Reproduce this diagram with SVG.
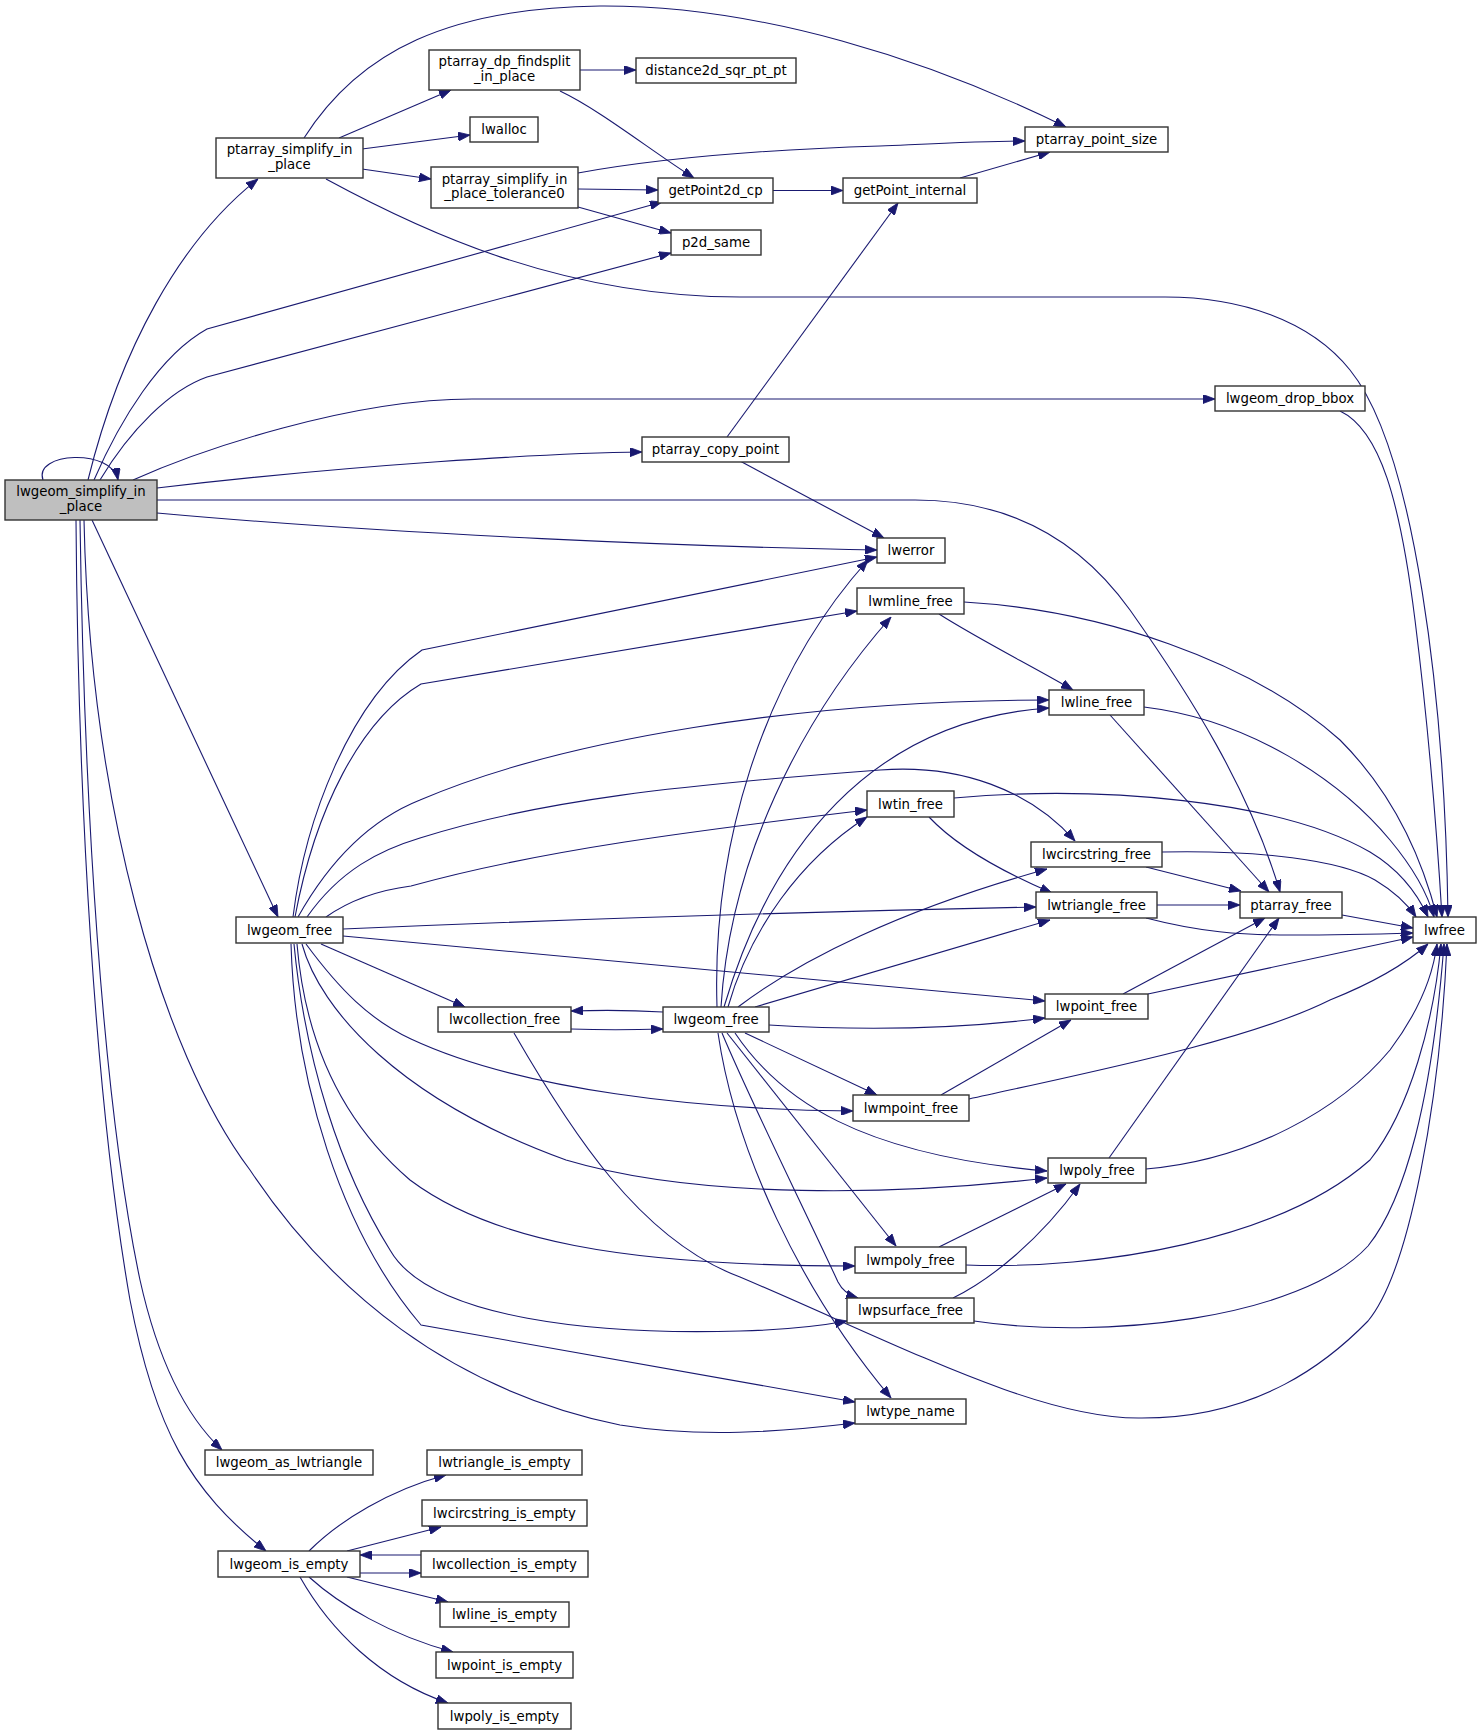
<svg xmlns="http://www.w3.org/2000/svg" width="1481" height="1735" viewBox="0 0 1481 1735">
<style>
.n rect{fill:#ffffff;stroke:#333333;stroke-width:1.4}
.n.root rect{fill:#bfbfbf}
.n text{font-family:"DejaVu Sans","Liberation Sans",sans-serif;font-size:13.3px;text-anchor:middle;fill:#000000}
.e path{fill:none;stroke:#191970;stroke-width:1.1;marker-end:url(#a)}
</style>
<defs>
<marker id="a" viewBox="0 0 12 9" markerWidth="12" markerHeight="9" refX="12" refY="4.5" orient="auto" markerUnits="userSpaceOnUse">
<path d="M0,0 L12,4.5 L0,9 z" fill="#191970" stroke="#191970" stroke-width="0.8"/>
</marker>
</defs>
<rect x="0" y="0" width="1481" height="1735" fill="#ffffff"/>
<g id="edges" class="e">
<path d="M43,480 C33,452 112,448 118,480"/>
<path d="M88,480 C120,350 180,240 258,179"/>
<path d="M94,480 C120,420 160,355 207,329 L662,202"/>
<path d="M100,480 C130,430 170,390 207,377 L671,253"/>
<path d="M133,480 C200,450 350,399 472,399 L1215,399"/>
<path d="M157,488 C350,465 550,453 642,452"/>
<path d="M157,500 L915,500 C1010,500 1080,540 1130,610 C1190,695 1250,790 1280,892"/>
<path d="M157,513 C400,535 700,547 877,550"/>
<path d="M92,520 L278,917"/>
<path d="M84,520 C90,800 160,1050 250,1170 C330,1290 450,1390 620,1425 C700,1438 780,1432 855,1423"/>
<path d="M80,520 C84,800 102,1100 140,1280 C160,1370 190,1420 222,1450"/>
<path d="M76,520 C78,800 95,1100 130,1300 C155,1430 190,1490 266,1551"/>
<path d="M339,138 L451,90"/>
<path d="M362,149 L470,135"/>
<path d="M362,169 L431,179"/>
<path d="M304,138 C360,50 450,8 600,6 C760,5 930,60 1066,127"/>
<path d="M326,179 C420,230 560,297 740,297 L1165,297 C1240,297 1310,320 1350,370 C1415,450 1445,700 1448,917"/>
<path d="M1340,411 C1380,430 1400,500 1415,620 C1430,740 1438,850 1442,917"/>
<path d="M580,70 L636,70"/>
<path d="M560,91 C600,110 650,150 694,178"/>
<path d="M578,173 C650,160 750,150 880,146 C950,143 990,141 1025,141"/>
<path d="M578,189 L658,190"/>
<path d="M578,207 L671,233"/>
<path d="M773,190.5 L843,190.5"/>
<path d="M960,178 L1050,152"/>
<path d="M727,437 L898,203"/>
<path d="M740,461 L884,538"/>
<path d="M293,917 C305,820 350,700 422,650 L877,557"/>
<path d="M295,917 C315,810 360,720 421,684 L857,611"/>
<path d="M298,917 C330,860 370,820 420,800 C560,740 800,700 1049,700"/>
<path d="M307,917 C340,870 380,850 420,838 C540,800 680,785 880,770 C960,764 1030,790 1075,841"/>
<path d="M326,917 C350,900 380,890 411,886 C540,850 700,830 867,810"/>
<path d="M343,929 C550,920 800,912 1036,907"/>
<path d="M343,936 L1045,1001"/>
<path d="M321,944 L465,1007"/>
<path d="M306,944 C340,990 370,1020 411,1039 C520,1090 700,1110 853,1111"/>
<path d="M302,944 C320,1010 400,1100 566,1160 C700,1200 900,1195 1047,1178"/>
<path d="M297,944 C305,1040 340,1120 410,1180 C490,1240 620,1266 855,1266"/>
<path d="M294,944 C305,1060 340,1170 390,1250 C430,1320 600,1335 740,1331 C780,1330 820,1326 847,1321"/>
<path d="M291,944 C295,1080 340,1230 421,1325 L855,1402"/>
<path d="M663,1012 C630,1010 600,1010 571,1011"/>
<path d="M571,1029 C600,1030 630,1030 663,1029"/>
<path d="M717,1007 C712,850 760,680 868,560"/>
<path d="M721,1007 C730,860 800,720 891,617"/>
<path d="M724,1007 C770,850 870,720 1049,708"/>
<path d="M728,1007 C750,930 800,860 867,817"/>
<path d="M738,1007 C800,960 900,910 1047,869"/>
<path d="M755,1007 L1050,920"/>
<path d="M769,1025 C850,1030 950,1030 1045,1018"/>
<path d="M745,1033 L877,1095"/>
<path d="M735,1033 C780,1100 860,1155 1047,1171"/>
<path d="M727,1033 L896,1246"/>
<path d="M722,1033 C750,1100 800,1200 838,1282 C842,1290 848,1295 858,1298"/>
<path d="M718,1033 C735,1150 800,1290 891,1398"/>
<path d="M939,614 C980,640 1030,665 1073,690"/>
<path d="M964,602 C1100,610 1250,660 1340,740 C1400,800 1425,870 1437,917"/>
<path d="M1110,715 L1269,892"/>
<path d="M1144,707 C1250,720 1340,780 1390,840 C1415,870 1428,895 1434,917"/>
<path d="M929,817 C960,850 1010,875 1052,893"/>
<path d="M954,798 C1100,785 1280,800 1370,852 C1400,870 1418,895 1428,917"/>
<path d="M1146,867 L1241,891"/>
<path d="M1162,852 C1260,850 1340,860 1375,880 C1395,892 1408,905 1416,917"/>
<path d="M1157,905 L1240,905"/>
<path d="M1146,918 C1200,932 1240,935 1290,935 C1340,935 1380,934 1413,933"/>
<path d="M1342,915 L1413,928"/>
<path d="M1123,994 L1265,918"/>
<path d="M1148,994 L1413,937"/>
<path d="M941,1095 L1071,1020"/>
<path d="M969,1099 C1100,1070 1250,1040 1330,1000 C1380,980 1410,960 1428,944"/>
<path d="M1109,1158 L1279,918"/>
<path d="M1146,1169 C1250,1160 1340,1110 1390,1050 C1420,1010 1433,975 1437,944"/>
<path d="M939,1247 L1066,1184"/>
<path d="M966,1265 C1100,1270 1280,1240 1370,1160 C1410,1110 1434,1020 1441,944"/>
<path d="M953,1298 C990,1280 1040,1240 1080,1184"/>
<path d="M974,1321 C1100,1340 1300,1320 1368,1246 C1405,1200 1432,1100 1444,944"/>
<path d="M514,1033 C570,1130 640,1240 740,1277 C900,1345 1040,1420 1142,1418 C1260,1418 1330,1360 1368,1321 C1410,1270 1440,1100 1447,944"/>
<path d="M309,1551 C340,1520 390,1490 446,1475"/>
<path d="M347,1551 L441,1527"/>
<path d="M421,1555 L360,1555"/>
<path d="M360,1573 L421,1573"/>
<path d="M347,1577 L448,1602"/>
<path d="M309,1577 C340,1605 390,1635 453,1652"/>
<path d="M300,1577 C330,1630 380,1680 448,1703"/>
</g>
<g id="lwgeom_simplify_in_place" class="n root"><rect x="5" y="480" width="152" height="40"/><text x="81" y="496.2">lwgeom_simplify_in</text><text x="81" y="510.5">_place</text></g>
<g id="ptarray_simplify_in_place" class="n"><rect x="216" y="138" width="147" height="40"/><text x="289.5" y="154.2">ptarray_simplify_in</text><text x="289.5" y="168.5">_place</text></g>
<g id="ptarray_dp_findsplit_in_place" class="n"><rect x="429" y="50" width="151" height="40"/><text x="504.5" y="66.2">ptarray_dp_findsplit</text><text x="504.5" y="80.5">_in_place</text></g>
<g id="distance2d_sqr_pt_pt" class="n"><rect x="636" y="58" width="160" height="25"/><text x="716" y="75">distance2d_sqr_pt_pt</text></g>
<g id="lwalloc" class="n"><rect x="470" y="117" width="68" height="25"/><text x="504" y="134">lwalloc</text></g>
<g id="ptarray_simplify_in_place_tolerance0" class="n"><rect x="431" y="167" width="147" height="41"/><text x="504.5" y="183.7">ptarray_simplify_in</text><text x="504.5" y="198">_place_tolerance0</text></g>
<g id="ptarray_point_size" class="n"><rect x="1025" y="127" width="143" height="25"/><text x="1096.5" y="144">ptarray_point_size</text></g>
<g id="getPoint2d_cp" class="n"><rect x="658" y="178" width="115" height="25"/><text x="715.5" y="195">getPoint2d_cp</text></g>
<g id="getPoint_internal" class="n"><rect x="843" y="178" width="134" height="25"/><text x="910" y="195">getPoint_internal</text></g>
<g id="p2d_same" class="n"><rect x="671" y="230" width="90" height="25"/><text x="716" y="247">p2d_same</text></g>
<g id="lwgeom_drop_bbox" class="n"><rect x="1215" y="386" width="150" height="25"/><text x="1290" y="403">lwgeom_drop_bbox</text></g>
<g id="ptarray_copy_point" class="n"><rect x="642" y="437" width="147" height="25"/><text x="715.5" y="454">ptarray_copy_point</text></g>
<g id="lwerror" class="n"><rect x="877" y="538" width="68" height="25"/><text x="911" y="555">lwerror</text></g>
<g id="lwgeom_free_1" class="n"><rect x="236" y="917" width="107" height="26"/><text x="289.5" y="934.5">lwgeom_free</text></g>
<g id="lwmline_free" class="n"><rect x="857" y="588" width="107" height="26"/><text x="910.5" y="605.5">lwmline_free</text></g>
<g id="lwline_free" class="n"><rect x="1049" y="690" width="95" height="25"/><text x="1096.5" y="707">lwline_free</text></g>
<g id="lwtin_free" class="n"><rect x="867" y="791" width="87" height="26"/><text x="910.5" y="808.5">lwtin_free</text></g>
<g id="lwcircstring_free" class="n"><rect x="1031" y="842" width="131" height="25"/><text x="1096.5" y="859">lwcircstring_free</text></g>
<g id="lwtriangle_free" class="n"><rect x="1036" y="892" width="121" height="26"/><text x="1096.5" y="909.5">lwtriangle_free</text></g>
<g id="ptarray_free" class="n"><rect x="1240" y="892" width="102" height="26"/><text x="1291" y="909.5">ptarray_free</text></g>
<g id="lwfree" class="n"><rect x="1413" y="917" width="63" height="26"/><text x="1444.5" y="934.5">lwfree</text></g>
<g id="lwcollection_free" class="n"><rect x="438" y="1007" width="133" height="25"/><text x="504.5" y="1024">lwcollection_free</text></g>
<g id="lwgeom_free_2" class="n"><rect x="663" y="1007" width="106" height="25"/><text x="716" y="1024">lwgeom_free</text></g>
<g id="lwpoint_free" class="n"><rect x="1045" y="994" width="103" height="25"/><text x="1096.5" y="1011">lwpoint_free</text></g>
<g id="lwmpoint_free" class="n"><rect x="853" y="1095" width="116" height="26"/><text x="911" y="1112.5">lwmpoint_free</text></g>
<g id="lwpoly_free" class="n"><rect x="1048" y="1158" width="98" height="25"/><text x="1097" y="1175">lwpoly_free</text></g>
<g id="lwmpoly_free" class="n"><rect x="855" y="1247" width="111" height="26"/><text x="910.5" y="1264.5">lwmpoly_free</text></g>
<g id="lwpsurface_free" class="n"><rect x="847" y="1298" width="127" height="25"/><text x="910.5" y="1315">lwpsurface_free</text></g>
<g id="lwtype_name" class="n"><rect x="855" y="1399" width="111" height="25"/><text x="910.5" y="1416">lwtype_name</text></g>
<g id="lwgeom_as_lwtriangle" class="n"><rect x="205" y="1450" width="168" height="25"/><text x="289" y="1467">lwgeom_as_lwtriangle</text></g>
<g id="lwtriangle_is_empty" class="n"><rect x="427" y="1450" width="155" height="25"/><text x="504.5" y="1467">lwtriangle_is_empty</text></g>
<g id="lwcircstring_is_empty" class="n"><rect x="422" y="1500" width="165" height="26"/><text x="504.5" y="1517.5">lwcircstring_is_empty</text></g>
<g id="lwcollection_is_empty" class="n"><rect x="421" y="1551" width="167" height="26"/><text x="504.5" y="1568.5">lwcollection_is_empty</text></g>
<g id="lwgeom_is_empty" class="n"><rect x="218" y="1551" width="142" height="26"/><text x="289" y="1568.5">lwgeom_is_empty</text></g>
<g id="lwline_is_empty" class="n"><rect x="440" y="1602" width="129" height="25"/><text x="504.5" y="1619">lwline_is_empty</text></g>
<g id="lwpoint_is_empty" class="n"><rect x="436" y="1652" width="137" height="26"/><text x="504.5" y="1669.5">lwpoint_is_empty</text></g>
<g id="lwpoly_is_empty" class="n"><rect x="438" y="1703" width="133" height="26"/><text x="504.5" y="1720.5">lwpoly_is_empty</text></g>
</svg>
